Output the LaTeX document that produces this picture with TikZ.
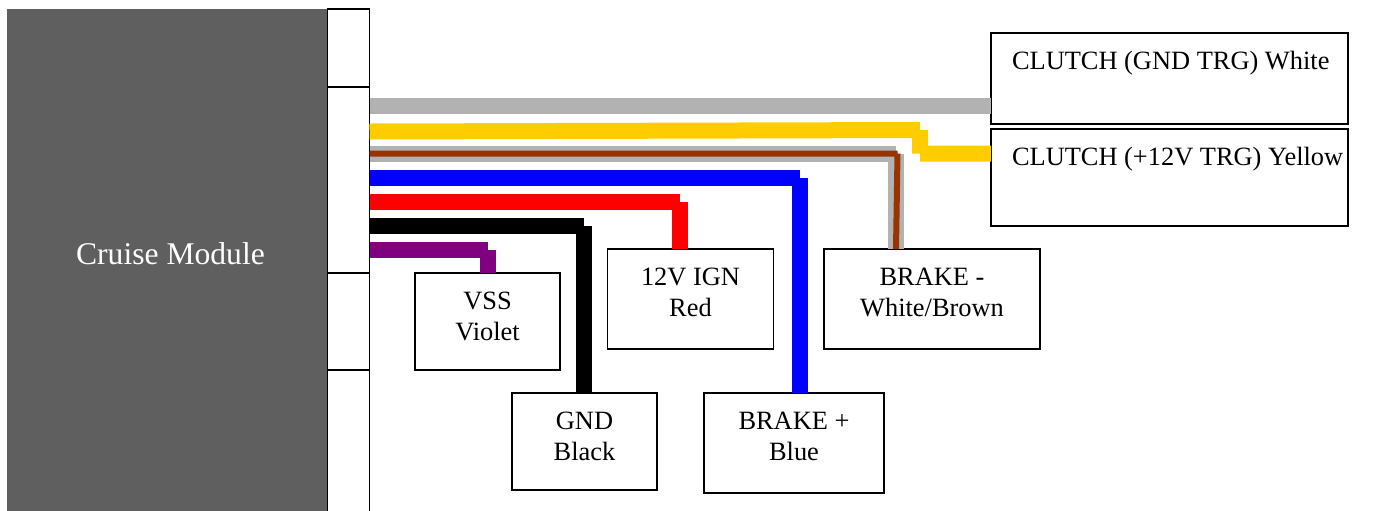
\documentclass[tikz,border=0pt]{standalone}
\usepackage{fontspec}
\setmainfont{Liberation Serif}
\definecolor{wiregrey}{HTML}{B2B2B2}
\definecolor{wireyellow}{HTML}{FFCC00}
\definecolor{wirebrown}{HTML}{993300}
\definecolor{wireviolet}{HTML}{800080}
\definecolor{moduledark}{HTML}{5F5F5F}
% width, height, gap above the first line, text
\newcommand{\boxlabel}[5][\centering]{\parbox[c][#3][t]{#2}{\vspace*{#4}#1\strut{}#5}}
\tikzset{
    wire/.style={draw=#1, line width=8pt},
    cell/.style={draw, line width=0.9pt, anchor=north west, inner sep=0pt, outer sep=0pt, minimum width=21pt},
    wirebox/.style={draw, line width=0.9pt, anchor=north west, inner sep=0pt, outer sep=0pt, font=\fontsize{13.2}{15.5}\selectfont},
}
\begin{document}
\begin{tikzpicture}[x=0.5pt,y=-0.5pt]
    \useasboundingbox (0,0) rectangle (1380,510);

    % Module and its connector cells
    \node[anchor=north west, fill=moduledark, inner sep=0pt, outer sep=0pt, text=white, font=\fontsize{15.8}{18}\selectfont] (module) at (7,9) {\boxlabel{160pt}{251pt}{114.9pt}{\hspace*{3.5pt}Cruise Module}};
    \node[cell, minimum height=39pt] (cella) at (327.5,9) {};
    \node[cell, minimum height=93pt] (cellb) at (327.5,87) {};
    \node[cell, minimum height=48.5pt] (cellc) at (327.5,273) {};
    \node[cell, minimum height=72pt] (celld) at (327.5,370) {};

    % Terminal boxes
    \node[wirebox] (clutchwhite) at (991,33) {\boxlabel[\raggedright\hspace*{10.5pt}]{178.5pt}{45.5pt}{7.15pt}{\mbox{CLUTCH (GND TRG) White}}};
    \node[wirebox] (clutchyellow) at (991,129) {\boxlabel[\raggedright\hspace*{10.5pt}]{178.5pt}{48.5pt}{7.15pt}{\mbox{CLUTCH (+12V TRG) Yellow}}};
    \node[wirebox] (vss) at (415,273) {\boxlabel{72.5pt}{48.5pt}{7.15pt}{VSS\\Violet}};
    \node[wirebox] (gnd) at (512,393) {\boxlabel{72.5pt}{48.5pt}{7.15pt}{GND\\Black}};
    \node[wirebox] (ign) at (607.5,249) {\boxlabel{83pt}{50pt}{7.15pt}{12V IGN\\Red}};
    \node[wirebox] (brakeneg) at (824,249) {\boxlabel{108pt}{50pt}{7.15pt}{BRAKE -\\White/Brown}};
    \node[wirebox] (brakepos) at (704,393) {\boxlabel{90pt}{50pt}{7.15pt}{BRAKE +\\Blue}};

    % Bend points
    \coordinate (white) at (369,105.5);
    \coordinate (yellowa) at (920,130);
    \coordinate (yellowb) at (920,153.5);
    \coordinate (greybend) at (896,154);
    \coordinate (brownbend) at (897.5,153.5);
    \coordinate (bluebend) at (800,178);
    \coordinate (redbend) at (680,202);
    \coordinate (blackbend) at (584,226);
    \coordinate (violetbend) at (488,250);

    % Wires
    \draw[wire=wiregrey] (cellb.east |- white) -- (clutchwhite.west |- white);
    \draw[wire=wireyellow] (cellb.east |- 0,131.5) -- (yellowa) (yellowa) -- (yellowb) (yellowb) -- (clutchyellow.west |- yellowb);
    \draw[wire=wiregrey] (cellb.east |- greybend) -- (greybend) (greybend) -- (greybend |- brakeneg.north);
    \draw[wirebrown, line width=3pt] (cellb.east |- brownbend) -- (brownbend) (brownbend) -- (brakeneg.north -| 896,0);
    \draw[wire=blue] (cellb.east |- bluebend) -- (bluebend) (bluebend) -- (bluebend |- brakepos.north);
    \draw[wire=red] (cellb.east |- redbend) -- (redbend) (redbend) -- (redbend |- ign.north);
    \draw[wire=black] (cellb.east |- blackbend) -- (blackbend) (blackbend) -- (blackbend |- gnd.north);
    \draw[wire=wireviolet] (cellb.east |- violetbend) -- (violetbend) (violetbend) -- (violetbend |- vss.north);

\end{tikzpicture}
\end{document}
